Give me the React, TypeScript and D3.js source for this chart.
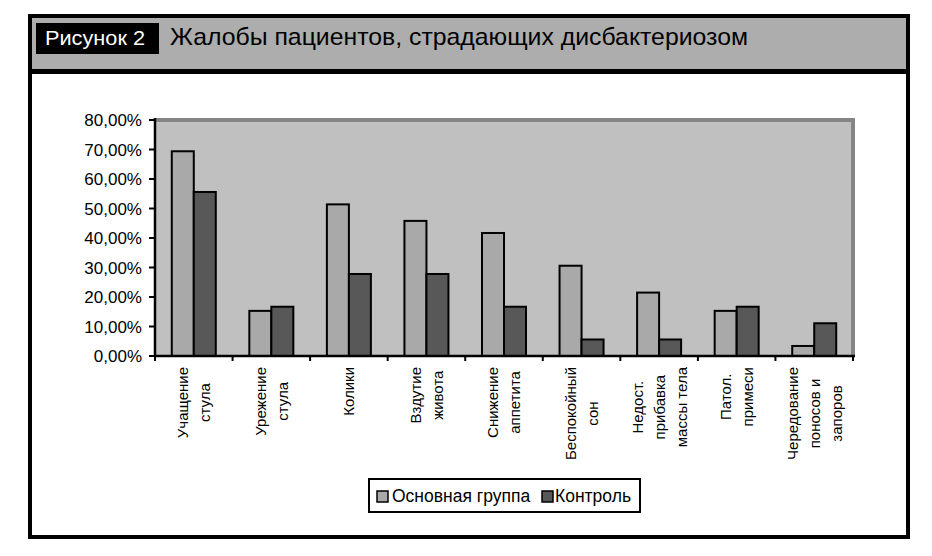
import React from "react";
import * as d3 from "d3";

const categories: string[][] = [
  ["Учащение", "стула"],
  ["Урежение", "стула"],
  ["Колики"],
  ["Вздутие", "живота"],
  ["Снижение", "аппетита"],
  ["Беспокойный", "сон"],
  ["Недост.", "прибавка", "массы тела"],
  ["Патол.", "примеси"],
  ["Чередование", "поносов и", "запоров"],
];
const mainGroup = [69.4, 15.3, 51.4, 45.8, 41.7, 30.6, 21.5, 15.3, 3.4];
const control = [55.6, 16.7, 27.8, 27.8, 16.7, 5.6, 5.6, 16.7, 11.1];
const seriesNames = ["Основная группа", "Контроль"];
const yTicks = [0, 10, 20, 30, 40, 50, 60, 70, 80];

const W = 932;
const H = 556;
const plot = { left: 155, right: 853, top: 120, bottom: 356 };
const FONT = "'Liberation Sans', Arial, sans-serif";
const NARROW = "'Liberation Sans Narrow', 'Liberation Sans', Arial, sans-serif";
const colors = ["#a9a9a9", "#585858"];

function measure(text: string, font: string): number {
  if (typeof document === "undefined") return text.length * 8;
  const c = document.createElement("canvas");
  const ctx = c.getContext("2d");
  if (!ctx) return text.length * 8;
  ctx.font = font;
  return ctx.measureText(text).width;
}

export default function App() {
  const idx = categories.map((_, i) => String(i));
  const x = d3.scaleBand<string>().domain(idx).range([plot.left, plot.right]).paddingInner(0).paddingOuter(0);
  const bw = x.bandwidth();
  const barW = 22;
  const outer = bw / (2 * barW) - 1;
  const xs = d3.scaleBand<string>().domain(seriesNames).range([0, bw]).paddingInner(0).paddingOuter(outer);
  const y = d3.scaleLinear().domain([0, 80]).range([plot.bottom, plot.top]);
  const data = [mainGroup, control];
  const fmt = (v: number) => v.toFixed(2).replace(".", ",") + "%";

  const labelFont = "15px 'Liberation Sans', Arial, sans-serif";
  const labelTop = 367;
  const lineGap = 22;

  return (
    <svg width={W} height={H} style={{ position: "absolute", left: 0, top: 0, background: "#fff" }} fontFamily={FONT}>
      {/* outer frame */}
      <rect x={30} y={16} width={878} height={521} fill="#fff" stroke="#000" strokeWidth={4} />
      <rect x={32} y={18} width={874} height={51} fill="#adadad" />
      <line x1={30} x2={908} y1={71.5} y2={71.5} stroke="#000" strokeWidth={5} />
      {/* header */}
      <rect x={36} y={23} width={123} height={31} fill="#000" />
      <text x={45} y={45} fill="#fff" fontSize={21} textLength={100} lengthAdjust="spacingAndGlyphs" fontFamily={NARROW}>
        Рисунок 2
      </text>
      <text x={170} y={45} fill="#000" fontSize={24} textLength={578} lengthAdjust="spacingAndGlyphs" fontFamily={NARROW}>
        Жалобы пациентов, страдающих дисбактериозом
      </text>

      {/* plot area */}
      <rect x={plot.left} y={plot.top} width={plot.right - plot.left} height={plot.bottom - plot.top} fill="#c0c0c0" />
      <line x1={plot.left} x2={plot.right + 2} y1={plot.top} y2={plot.top} stroke="#858585" strokeWidth={4} />
      <line x1={plot.right} x2={plot.right} y1={plot.top - 2} y2={plot.bottom} stroke="#858585" strokeWidth={4} />

      {/* bars */}
      {data.map((series, s) =>
        series.map((v, i) => (
          <rect
            key={`${s}-${i}`}
            x={(x(String(i)) as number) + (xs(seriesNames[s]) as number)}
            y={y(v)}
            width={xs.bandwidth()}
            height={plot.bottom - y(v)}
            fill={colors[s]}
            stroke="#000"
            strokeWidth={2}
          />
        ))
      )}

      {/* axes */}
      <line x1={plot.left} x2={plot.left} y1={plot.top - 2} y2={plot.bottom + 1} stroke="#000" strokeWidth={2.5} />
      <line x1={plot.left - 1} x2={plot.right + 2} y1={plot.bottom} y2={plot.bottom} stroke="#000" strokeWidth={2.5} />
      {yTicks.map((t) => (
        <g key={t}>
          <line x1={plot.left - 6} x2={plot.left} y1={y(t)} y2={y(t)} stroke="#000" strokeWidth={2} />
          <text x={142} y={y(t)} dy="0.36em" textAnchor="end" fontSize={17} fill="#000">
            {fmt(t)}
          </text>
        </g>
      ))}
      {d3.range(categories.length + 1).map((i) => {
        const xv = plot.left + i * bw;
        return <line key={i} x1={xv} x2={xv} y1={plot.bottom} y2={plot.bottom + 5} stroke="#000" strokeWidth={2} />;
      })}

      {/* x labels */}
      {categories.map((lines, i) => {
        const cx = (x(String(i)) as number) + bw / 2;
        const block = Math.max(...lines.map((l) => measure(l, labelFont)));
        const cy = labelTop + block / 2;
        return lines.map((l, j) => {
          const lx = cx + (j - (lines.length - 1) / 2) * lineGap;
          return (
            <text
              key={`${i}-${j}`}
              transform={`translate(${lx},${cy}) rotate(-90)`}
              textAnchor="middle"
              dy="0.36em"
              fontSize={15}
              fill="#000"
            >
              {l}
            </text>
          );
        });
      })}

      {/* legend */}
      <rect x={369} y={479} width={271} height={33} fill="#fff" stroke="#000" strokeWidth={2} />
      <rect x={377} y={491} width={11} height={11} fill={colors[0]} stroke="#000" strokeWidth={1.5} />
      <text x={392} y={502} fontSize={17.5} fill="#000">{seriesNames[0]}</text>
      <rect x={542} y={491} width={11} height={11} fill={colors[1]} stroke="#000" strokeWidth={1.5} />
      <text x={555} y={502} fontSize={17.5} fill="#000">{seriesNames[1]}</text>
    </svg>
  );
}
